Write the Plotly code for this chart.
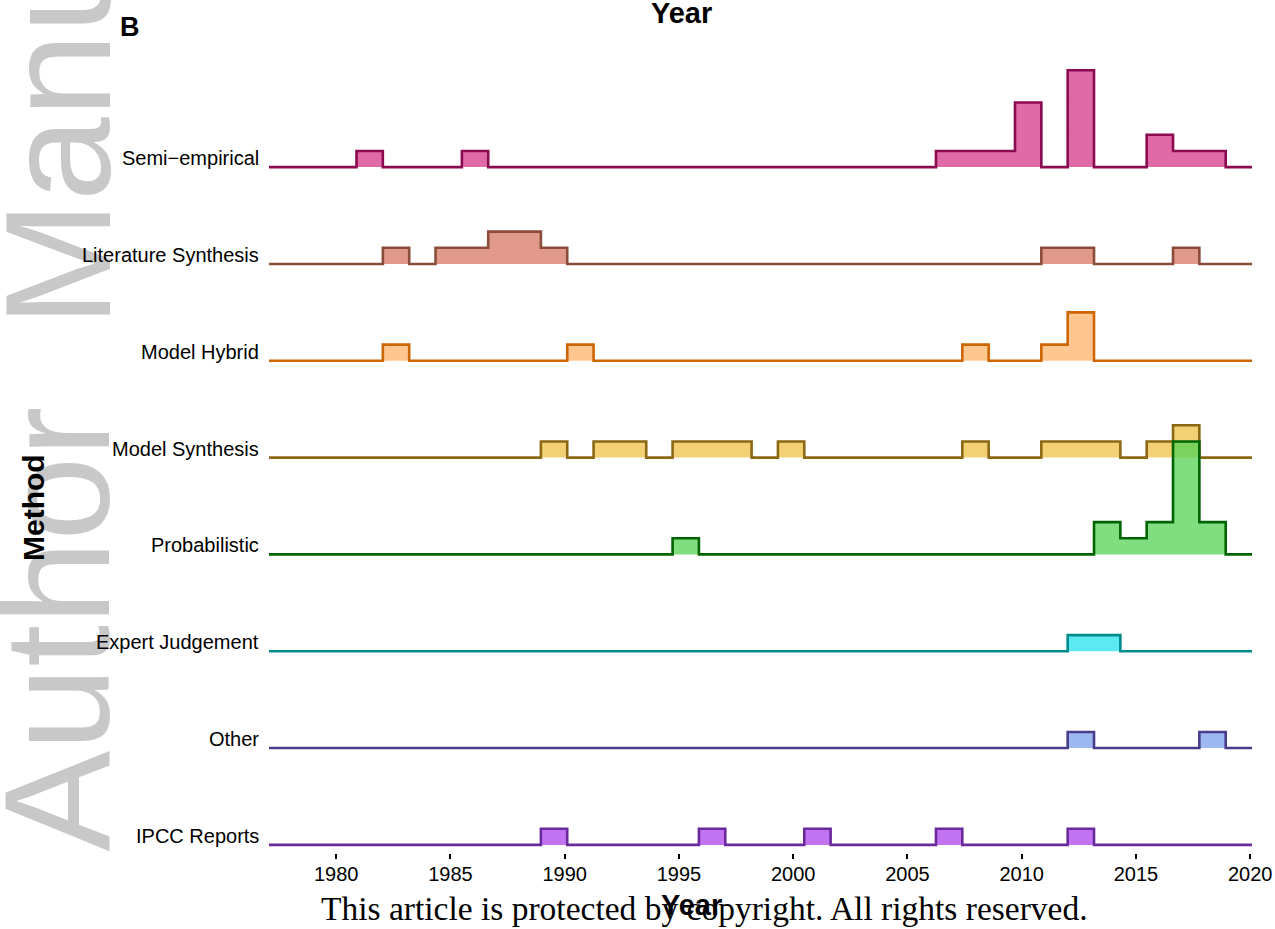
import plotly.graph_objects as go

# Histogram bins shared by every method (publication year)
BIN_START = 1980.89
BIN_WIDTH = 1.1527
X_MIN, X_MAX = 1977.06, 2020.08

methods = ["Semi\u2212empirical", "Literature Synthesis", "Model Hybrid", "Model Synthesis",
           "Probabilistic", "Expert Judgement", "Other", "IPCC Reports"]

# Number of studies per bin (34 bins)
semi_empirical       = [1,0,0,0,1,0,0,0,0,0, 0,0,0,0,0,0,0,0,0,0, 0,0,1,1,1,4,0,6,0,0, 2,1,1,0]
literature_synthesis = [0,1,0,1,1,2,2,1,0,0, 0,0,0,0,0,0,0,0,0,0, 0,0,0,0,0,0,1,1,0,0, 0,1,0,0]
model_hybrid         = [0,1,0,0,0,0,0,0,1,0, 0,0,0,0,0,0,0,0,0,0, 0,0,0,1,0,0,1,3,0,0, 0,0,0,0]
model_synthesis      = [0,0,0,0,0,0,0,1,0,1, 1,0,1,1,1,0,1,0,0,0, 0,0,0,1,0,0,1,1,1,0, 1,2,0,0]
probabilistic        = [0,0,0,0,0,0,0,0,0,0, 0,0,1,0,0,0,0,0,0,0, 0,0,0,0,0,0,0,0,2,1, 2,7,2,0]
expert_judgement     = [0,0,0,0,0,0,0,0,0,0, 0,0,0,0,0,0,0,0,0,0, 0,0,0,0,0,0,0,1,1,0, 0,0,0,0]
other                = [0,0,0,0,0,0,0,0,0,0, 0,0,0,0,0,0,0,0,0,0, 0,0,0,0,0,0,0,1,0,0, 0,0,1,0]
ipcc_reports         = [0,0,0,0,0,0,0,1,0,0, 0,0,0,1,0,0,0,1,0,0, 0,0,1,0,0,0,0,1,0,0, 0,0,0,0]

counts = [semi_empirical, literature_synthesis, model_hybrid, model_synthesis,
          probabilistic, expert_judgement, other, ipcc_reports]

line_colors = ["#8B0A50", "#8B4C39", "#CD6600", "#8B6914",
               "#006400", "#008B8B", "#483D8B", "#6B2A9B"]
fill_colors = [(224, 106, 167), (224, 153, 138), (255, 198, 144), (242, 208, 115),
               (128, 222, 128), (92, 234, 242), (157, 184, 240), (193, 115, 241)]

COUNT_SCALE = 1 / 6   # ridge height per study, in row units
ALPHA = 0.75

def rgba(target):
    # colour with transparency that gives `target` when laid over white
    c = [max(0, min(255, round((v - (1 - ALPHA) * 255) / ALPHA))) for v in target]
    return f"rgba({c[0]},{c[1]},{c[2]},{ALPHA})"

n = len(methods)
fig = go.Figure()

for i, (name, cnt) in enumerate(zip(methods, counts)):
    base = n - 1 - i
    edges = [BIN_START + k * BIN_WIDTH for k in range(len(cnt) + 1)]
    xs = [X_MIN] + edges
    ys = [base] + [base + c * COUNT_SCALE for c in cnt] + [base]
    fig.add_trace(go.Scatter(
        x=xs, y=ys, mode="lines", line_shape="hv",
        line=dict(color=line_colors[i], width=2.6),
        fill="toself", fillcolor=rgba(fill_colors[i]),
        name=name, hoverinfo="skip",
    ))

sans = "Liberation Sans, Arial, sans-serif"

fig.update_layout(
    width=1275, height=929,
    margin=dict(l=269, r=23, t=40, b=76, autoexpand=False),
    plot_bgcolor="white", paper_bgcolor="white",
    showlegend=False,
    xaxis=dict(
        range=[X_MIN, X_MAX], automargin=False,
        tickvals=list(range(1980, 2021, 5)),
        ticks="outside", ticklen=5, tickwidth=2, tickcolor="black",
        showgrid=False, zeroline=False, showline=False,
        tickfont=dict(family=sans, size=20, color="black"),
        ticklabeloverflow="allow", ticklabelstandoff=-2,
    ),
    yaxis=dict(
        range=[-0.0837, 8.3126], automargin=False,
        showticklabels=False, ticks="",
        showgrid=False, zeroline=False, showline=False,
    ),
)

# Grey manuscript watermark sits underneath everything else
annotations = [
    dict(text="Author", x=-0.2157, y=0.0, xref="paper", yref="paper",
         xanchor="center", yanchor="bottom", textangle=-90,
         font=dict(family=sans, size=151, color="#C8C8C8")),
    dict(text="Manuscript", x=-0.2157, y=0.6445, xref="paper", yref="paper",
         xanchor="center", yanchor="bottom", textangle=-90,
         font=dict(family=sans, size=151, color="#C8C8C8")),
]

# Method names beside each ridge baseline
for i, name in enumerate(methods):
    annotations.append(dict(
        text=name, x=-0.0081, y=n - 1 - i, xref="paper", yref="y",
        xanchor="right", yanchor="middle", yshift=9,
        font=dict(family=sans, size=20, color="black"),
    ))

annotations += [
    dict(text="<b>Method</b>", x=-0.239, y=0.4244, xanchor="center", yanchor="middle",
         textangle=-90, font=dict(family=sans, size=30, color="black")),
    dict(text="<b>B</b>", x=-0.1414, y=1.016, xanchor="center", yanchor="middle",
         font=dict(family=sans, size=27, color="black")),
    dict(text="<b>Year</b>", x=0.4201, y=1.0332, xanchor="center", yanchor="middle",
         font=dict(family=sans, size=29, color="black")),
    dict(text="This article is protected by copyright. All rights reserved.",
         x=0.4435, y=-0.0677, xanchor="center", yanchor="middle",
         font=dict(family="Liberation Serif, Times New Roman, serif", size=33.5, color="black")),
    dict(text="<b>Year</b>", x=0.4293, y=-0.064, xanchor="center", yanchor="middle",
         font=dict(family=sans, size=29, color="black")),
]
for a in annotations:
    a.setdefault("xref", "paper")
    a.setdefault("yref", "paper")
    a["showarrow"] = False
fig.update_layout(annotations=annotations)

fig.write_html("out.html")
